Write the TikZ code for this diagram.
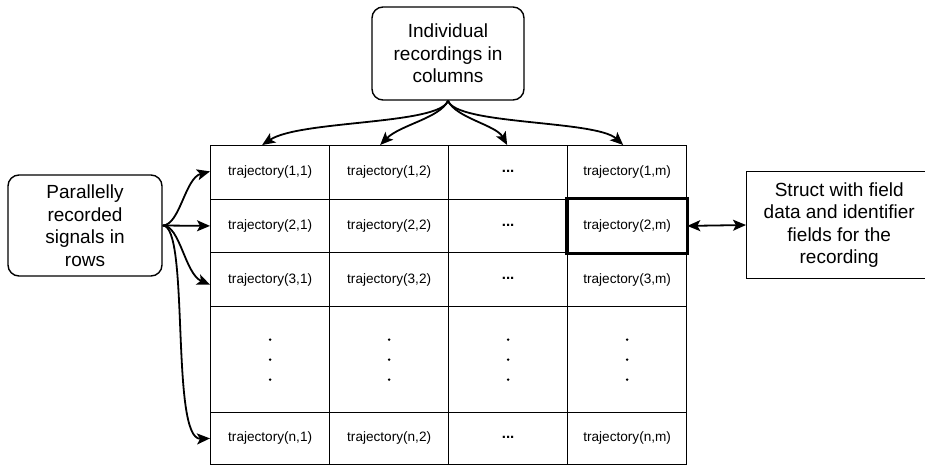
\documentclass[tikz,border=0pt]{standalone}
\usepackage{fontspec}
\setmainfont{Liberation Sans}
\usetikzlibrary{arrows.meta}
\begin{document}
\begin{tikzpicture}[x=1pt,y=-1pt,
  cell/.style={draw=black,line width=1.3pt,minimum width=119pt,minimum height=#1,inner sep=0pt,anchor=north west},
  cell/.default=53.5pt,
  ctext/.style={font=\fontsize{13.6}{16}\selectfont},
  hl/.style={draw=black,line width=3.2pt},
  note/.style={draw=black,line width=1.4pt,align=center,font=\fontsize{19}{22.5}\selectfont,inner sep=0pt},
  rnote/.style={note,rounded corners=11pt},
  arr/.style={-{Stealth[length=13pt,width=11pt,inset=3pt]},line width=1.8pt},
  darr/.style={{Stealth[length=13pt,width=11pt,inset=3pt]}-{Stealth[length=13pt,width=11pt,inset=3pt]},line width=1.8pt}]
\useasboundingbox (0,0) rectangle (925,464);
% columns: 210,329,448,567,686 ; rows: 145,198.5,252,306,412,464
\foreach \c/\x in {1/210,2/329,3/448,4/567}{
  \foreach \r/\y/\h in {1/145/53.5,2/198.5/53.5,3/252/54,4/306/106,5/412/51.5}{
    \node[cell=\h pt] (c\r\c) at (\x,\y) {};
  }
}
% texts
\foreach \c/\cl in {1/1,2/2,4/m}{
  \foreach \r/\rl in {1/1,2/2,3/3,5/n}{
    \node[ctext] (t\r\c) at (c\r\c) {trajectory(\rl,\cl)};
  }
}
\foreach \r in {1,2,3,5}{
  \node[font=\fontsize{15}{16}\bfseries\selectfont] (e\r) at ([yshift=1pt]c\r3) {...};
}
\foreach \c in {1,2,3,4}{
  \foreach \dy in {-20,0,20}{
    \fill ([yshift=\dy]c4\c.center) circle (1.4pt);
  }
}
% highlighted cell
\draw[hl] (c24.north west) rectangle (c24.south east);
% notes
\node[rnote,minimum width=152pt,minimum height=93pt] (top) at (448,53.5) {Individual\\recordings in\\columns};
\node[rnote,minimum width=154pt,minimum height=101pt] (left) at (85,225.5) {Parallelly\\recorded\\signals in\\rows};
\node[note,minimum width=185pt,minimum height=107pt,anchor=west] (right) at (746,225) {Struct with field\\data and identifier\\fields for the\\recording};
% top arrows
\draw[arr] (top.south) .. controls (440,125) and (300,120) .. ([xshift=-8pt]c11.north);
\draw[arr] (top.south) .. controls (440,118) and (400,125) .. ([xshift=-9pt]c12.north);
\draw[arr] (top.south) .. controls (456,118) and (496,125) .. ([xshift=-1pt]c13.north);
\draw[arr] (top.south) .. controls (456,125) and (596,120) .. ([xshift=-4pt]c14.north);
% left arrows
\draw[arr] (left.east) .. controls (180,225) and (185,178) .. ([yshift=1pt]c11.west);
\draw[arr] (left.east) -- (c21.west);
\draw[arr] (left.east) .. controls (180,225) and (185,274) .. ([yshift=-5pt]c31.west);
\draw[arr] (left.east) .. controls (190,225) and (170,440) .. ([yshift=0pt]c51.west);
% double arrow
\draw[darr] (c24.east) -- (right.west);
\end{tikzpicture}
\end{document}
